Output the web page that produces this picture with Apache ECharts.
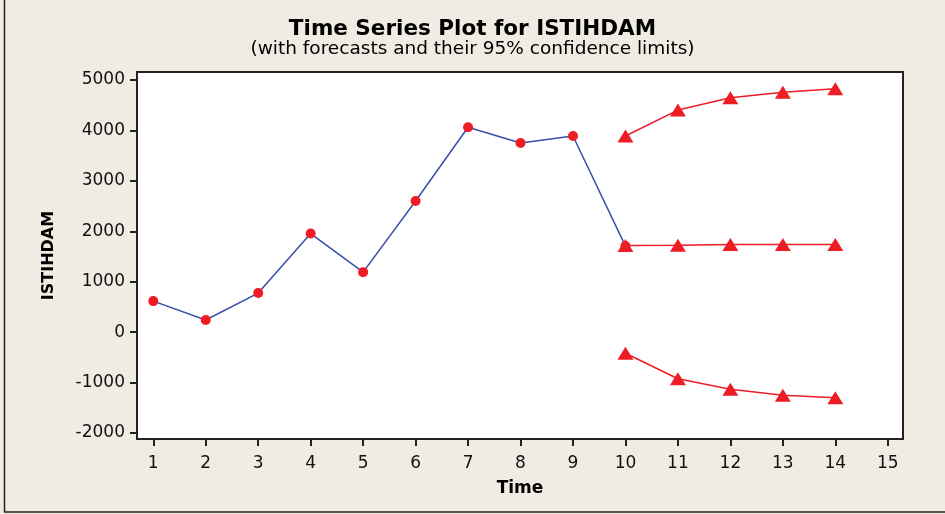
<!DOCTYPE html>
<html>
<head>
<meta charset="utf-8">
<script src="https://cdn.jsdelivr.net/npm/echarts@6/dist/echarts.min.js"></script>
<style>
  html, body { margin: 0; padding: 0; background: #F0ECE3; }
  #chart { width: 945px; height: 514px; }
</style>
</head>
<body>
<div id="chart"></div>
<script>
// observed series (time 1..10)
const timeActual = [1, 2, 3, 4, 5, 6, 7, 8, 9, 10]
const actualValues = [615, 240, 775, 1955, 1190, 2600, 4065, 3750, 3890, 1706]
// forecasts and 95% limits (time 10..14)
const timeForecast = [10, 11, 12, 13, 14]
const forecastValues = [1720, 1725, 1740, 1740, 1740]
const upperValues = [3890, 4405, 4650, 4760, 4830]
const lowerValues = [-420, -925, -1135, -1250, -1300]
// tick labels
const xTicks = [1, 2, 3, 4, 5, 6, 7, 8, 9, 10, 11, 12, 13, 14, 15]
const yTicks = [-2000, -1000, 0, 1000, 2000, 3000, 4000, 5000]

const font = 'DejaVu Sans'
const red = '#EE1C25'
const blue = '#3A4DAA'

function pairs(xs, ys) {
  return xs.map((x, i) => [x, ys[i]])
}

function triSeries(data) {
  return {
    type: 'line',
    data: data,
    symbol: 'triangle',
    symbolSize: [16, 13],
    itemStyle: { color: red },
    lineStyle: { color: red, width: 1.5 },
    z: 3
  }
}

const chart = echarts.init(document.getElementById('chart'))
chart.setOption({
  backgroundColor: '#F0ECE3',
  animation: false,
  title: {
    text: 'Time Series Plot for ISTIHDAM',
    subtext: '(with forecasts and their 95% confidence limits)',
    left: 'center',
    top: 13,
    itemGap: 0,
    textStyle: { fontFamily: font, fontWeight: 'bold', fontSize: 21.5, color: '#000' },
    subtextStyle: { fontFamily: font, fontSize: 18.5, color: '#000' }
  },
  graphic: [
    { type: 'line', shape: { x1: 4.5, y1: 0, x2: 4.5, y2: 512 }, style: { stroke: '#222', lineWidth: 1.5 } },
    { type: 'line', shape: { x1: 4, y1: 512, x2: 945, y2: 512 }, style: { stroke: '#222', lineWidth: 1.5 } }
  ],
  grid: {
    left: 137,
    right: 42,
    top: 72,
    bottom: 75,
    show: true,
    backgroundColor: '#fff',
    borderColor: '#222',
    borderWidth: 2
  },
  xAxis: {
    type: 'value',
    min: 0.69,
    max: 15.29,
    name: 'Time',
    nameLocation: 'middle',
    nameGap: 41,
    nameTextStyle: { fontFamily: font, fontWeight: 'bold', fontSize: 17, color: '#000' },
    axisLine: { show: true, onZero: false, lineStyle: { color: '#222', width: 2 } },
    axisTick: { show: true, customValues: xTicks, length: 7, lineStyle: { color: '#222', width: 2 } },
    axisLabel: { customValues: xTicks, fontFamily: font, fontSize: 17, color: '#111', margin: 16 },
    splitLine: { show: false }
  },
  yAxis: {
    type: 'value',
    min: -2120,
    max: 5160,
    name: 'ISTIHDAM',
    nameLocation: 'middle',
    nameGap: 80,
    nameTextStyle: { fontFamily: font, fontWeight: 'bold', fontSize: 16, color: '#000' },
    axisLine: { show: true, onZero: false, lineStyle: { color: '#222', width: 2 } },
    axisTick: { show: true, customValues: yTicks, length: 7, lineStyle: { color: '#222', width: 2 } },
    axisLabel: {
      customValues: yTicks,
      formatter: v => String(v),
      fontFamily: font,
      fontSize: 17,
      color: '#111',
      margin: 12
    },
    splitLine: { show: false }
  },
  series: [
    {
      type: 'line',
      data: pairs(timeActual, actualValues),
      symbol: 'circle',
      symbolSize: 10,
      itemStyle: { color: red },
      lineStyle: { color: blue, width: 1.5 },
      z: 2
    },
    triSeries(pairs(timeForecast, forecastValues)),
    triSeries(pairs(timeForecast, upperValues)),
    triSeries(pairs(timeForecast, lowerValues))
  ]
})
</script>
</body>
</html>
